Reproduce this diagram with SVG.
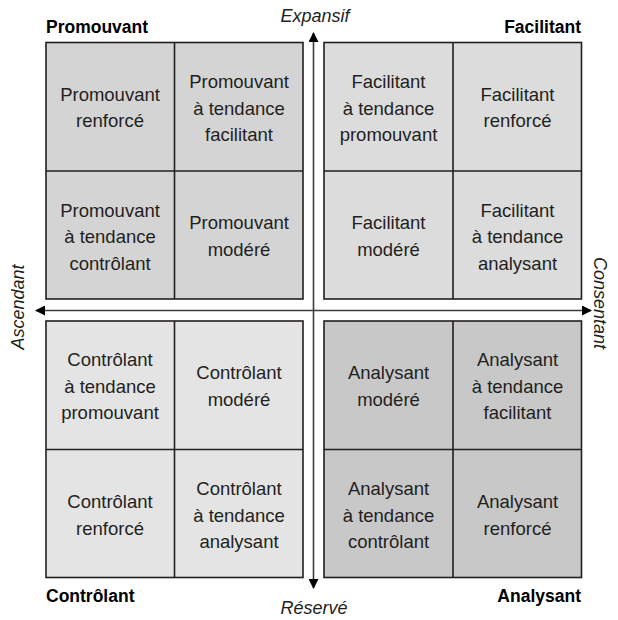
<svg xmlns="http://www.w3.org/2000/svg" width="618" height="620" viewBox="0 0 618 620">
<style>
.q{stroke:#231f20;stroke-width:1.6}
.d{stroke:#231f20;stroke-width:1.6;fill:none}
.t{font-family:"Liberation Sans",Arial,sans-serif;font-size:18.5px;fill:#231f20;text-anchor:middle}
.b{font-family:"Liberation Sans",Arial,sans-serif;font-size:17.5px;font-weight:bold;fill:#000}
.i{font-family:"Liberation Sans",Arial,sans-serif;font-size:18px;font-style:italic;fill:#231f20;text-anchor:middle}
.ax{stroke:#3c3c3c;stroke-width:1.6;fill:none}
</style>
<defs>
<marker id="ah" viewBox="0 0 10 10" refX="9" refY="5" markerWidth="10" markerHeight="10" markerUnits="userSpaceOnUse" orient="auto-start-reverse">
<path d="M0,0 L10,5 L0,10 Z" fill="#000"/>
</marker>
</defs>
<rect width="618" height="620" fill="#fff"/>
<g id="connectors">
<line class="ax" x1="36" y1="310.5" x2="591" y2="310.5" marker-start="url(#ah)" marker-end="url(#ah)"/>
<line class="ax" x1="313.5" y1="33" x2="313.5" y2="588" marker-start="url(#ah)" marker-end="url(#ah)"/>
</g>
<g id="quadrant-promouvant">
<rect class="q" x="46" y="42.5" width="257" height="256.5" fill="#d4d4d5"/>
<line class="d" x1="174.5" y1="42.5" x2="174.5" y2="299"/>
<line class="d" x1="46" y1="171" x2="303" y2="171"/>
</g>
<g id="quadrant-facilitant">
<rect class="q" x="324" y="42.5" width="257.5" height="256.5" fill="#dcdcdd"/>
<line class="d" x1="453" y1="42.5" x2="453" y2="299"/>
<line class="d" x1="324" y1="171" x2="581.5" y2="171"/>
</g>
<g id="quadrant-controlant">
<rect class="q" x="46" y="321" width="257" height="256.5" fill="#e4e4e5"/>
<line class="d" x1="174.5" y1="321" x2="174.5" y2="577.5"/>
<line class="d" x1="46" y1="449.5" x2="303" y2="449.5"/>
</g>
<g id="quadrant-analysant">
<rect class="q" x="324" y="321" width="257.5" height="256.5" fill="#c8c8c9"/>
<line class="d" x1="453" y1="321" x2="453" y2="577.5"/>
<line class="d" x1="324" y1="449.5" x2="581.5" y2="449.5"/>
</g>
<g id="n-promouvant-renforce"><text class="t" x="110" y="100.5">Promouvant</text><text class="t" x="110" y="127">renforcé</text></g>
<g id="n-promouvant-facilitant"><text class="t" x="239" y="88">Promouvant</text><text class="t" x="239" y="114.5">à tendance</text><text class="t" x="239" y="141">facilitant</text></g>
<g id="n-promouvant-controlant"><text class="t" x="110" y="216.5">Promouvant</text><text class="t" x="110" y="243">à tendance</text><text class="t" x="110" y="269.5">contrôlant</text></g>
<g id="n-promouvant-modere"><text class="t" x="239" y="229">Promouvant</text><text class="t" x="239" y="255.5">modéré</text></g>
<g id="n-facilitant-promouvant"><text class="t" x="388.5" y="88">Facilitant</text><text class="t" x="388.5" y="114.5">à tendance</text><text class="t" x="388.5" y="141">promouvant</text></g>
<g id="n-facilitant-renforce"><text class="t" x="517.5" y="100.5">Facilitant</text><text class="t" x="517.5" y="127">renforcé</text></g>
<g id="n-facilitant-modere"><text class="t" x="388.5" y="229">Facilitant</text><text class="t" x="388.5" y="255.5">modéré</text></g>
<g id="n-facilitant-analysant"><text class="t" x="517.5" y="216.5">Facilitant</text><text class="t" x="517.5" y="243">à tendance</text><text class="t" x="517.5" y="269.5">analysant</text></g>
<g id="n-controlant-promouvant"><text class="t" x="110" y="366">Contrôlant</text><text class="t" x="110" y="392.5">à tendance</text><text class="t" x="110" y="419">promouvant</text></g>
<g id="n-controlant-modere"><text class="t" x="239" y="379">Contrôlant</text><text class="t" x="239" y="405.5">modéré</text></g>
<g id="n-controlant-renforce"><text class="t" x="110" y="508">Contrôlant</text><text class="t" x="110" y="534.5">renforcé</text></g>
<g id="n-controlant-analysant"><text class="t" x="239" y="495">Contrôlant</text><text class="t" x="239" y="521.5">à tendance</text><text class="t" x="239" y="548">analysant</text></g>
<g id="n-analysant-modere"><text class="t" x="388.5" y="379">Analysant</text><text class="t" x="388.5" y="405.5">modéré</text></g>
<g id="n-analysant-facilitant"><text class="t" x="517.5" y="366">Analysant</text><text class="t" x="517.5" y="392.5">à tendance</text><text class="t" x="517.5" y="419">facilitant</text></g>
<g id="n-analysant-controlant"><text class="t" x="388.5" y="495">Analysant</text><text class="t" x="388.5" y="521.5">à tendance</text><text class="t" x="388.5" y="548">contrôlant</text></g>
<g id="n-analysant-renforce"><text class="t" x="517.5" y="508">Analysant</text><text class="t" x="517.5" y="534.5">renforcé</text></g>
<g id="labels">
<text class="b" x="46" y="33">Promouvant</text>
<text class="b" x="581" y="33" text-anchor="end">Facilitant</text>
<text class="b" x="46" y="602">Contrôlant</text>
<text class="b" x="581" y="602" text-anchor="end">Analysant</text>
<text class="i" x="315" y="21.5">Expansif</text>
<text class="i" x="314" y="614">Réservé</text>
<text class="i" transform="translate(24,307) rotate(-90)">Ascendant</text>
<text class="i" transform="translate(594,303) rotate(90)">Consentant</text>
</g>
</svg>
